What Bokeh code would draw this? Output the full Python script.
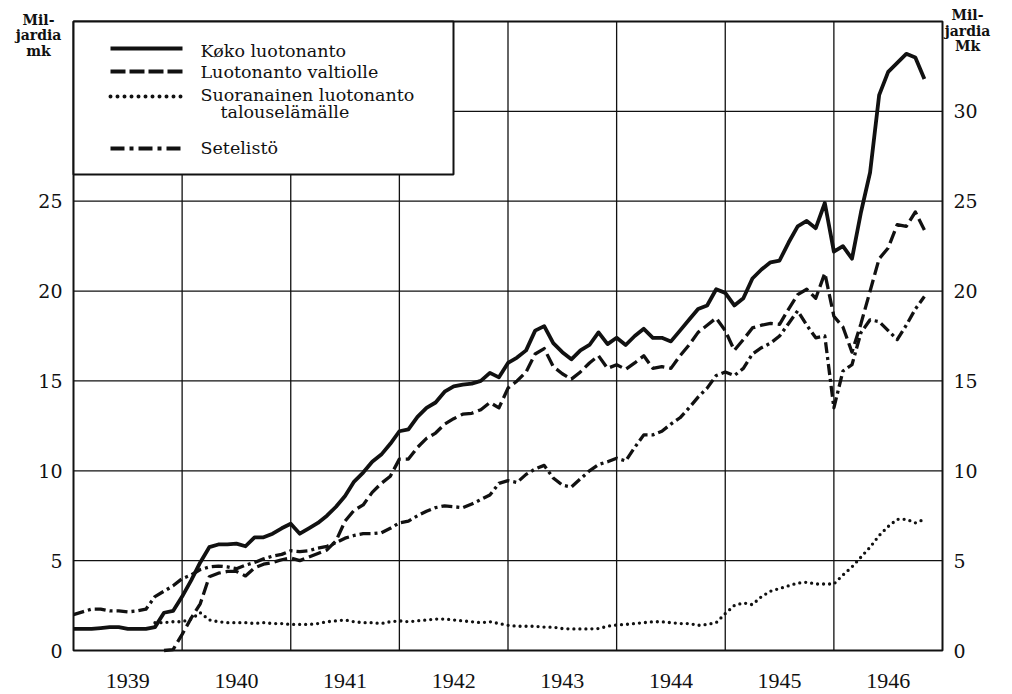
import numpy as np
from bokeh.plotting import figure
from bokeh.models import Label, BoxAnnotation, Arrow, Range1d, ColumnDataSource
from bokeh.core.properties import value
from bokeh.embed import file_html
from bokeh.resources import INLINE

# ---------------- data (monthly, Jan 1939 .. Nov 1946, milliards of mk) ----------------
year_labels = ["1939", "1940", "1941", "1942", "1943", "1944", "1945", "1946"]
start_year = 1939
nan = float("nan")

koko = [1.2, 1.2, 1.2, 1.25, 1.3, 1.3, 1.2, 1.2, 1.2, 1.3,
        2.1, 2.2, 3.0, 3.9, 4.9, 5.75, 5.9, 5.9, 5.95, 5.8,
        6.3, 6.3, 6.5, 6.8, 7.05, 6.5, 6.8, 7.1, 7.5, 8.0,
        8.6, 9.4, 9.9, 10.5, 10.9, 11.5, 12.2, 12.3, 13.0, 13.5,
        13.8, 14.4, 14.7, 14.8, 14.85, 15.0, 15.45, 15.2, 16.0, 16.3,
        16.7, 17.8, 18.05, 17.1, 16.6, 16.2, 16.7, 17.0, 17.7, 17.05,
        17.4, 17.0, 17.5, 17.9, 17.4, 17.4, 17.2, 17.8, 18.4, 19.0,
        19.2, 20.1, 19.9, 19.2, 19.6, 20.7, 21.2, 21.6, 21.7, 22.7,
        23.6, 23.9, 23.5, 24.9, 22.2, 22.5, 21.8, 24.4, 26.6, 30.9,
        32.2, 32.7, 33.2, 33.0, 31.8]

valtio = [nan, nan, nan, nan, nan, nan, nan, nan, nan, nan,
          0.0, 0.05, 0.9, 1.8, 2.6, 4.1, 4.3, 4.4, 4.4, 4.15,
          4.6, 4.8, 4.9, 5.05, 5.15, 5.0, 5.2, 5.4, 5.6, 6.1,
          7.2, 7.8, 8.1, 8.8, 9.3, 9.7, 10.65, 10.65, 11.3, 11.8,
          12.1, 12.6, 12.9, 13.15, 13.2, 13.4, 13.8, 13.5, 14.6, 15.0,
          15.5, 16.5, 16.8, 15.8, 15.4, 15.1, 15.5, 16.0, 16.4, 15.7,
          15.9, 15.65, 16.0, 16.4, 15.7, 15.8, 15.7, 16.4, 17.0, 17.7,
          18.1, 18.5, 17.8, 16.7, 17.3, 17.95, 18.1, 18.2, 18.15, 19.0,
          19.8, 20.1, 19.6, 21.0, 18.6, 18.0, 16.6, 18.2, 20.0, 21.8,
          22.4, 23.7, 23.6, 24.4, 23.4]

suora = [nan, nan, nan, nan, nan, nan, nan, nan, nan, 1.55,
         1.55, 1.6, 1.6, 1.75, 2.1, 1.7, 1.6, 1.55, 1.55, 1.55,
         1.5, 1.55, 1.5, 1.5, 1.45, 1.45, 1.45, 1.5, 1.6, 1.65,
         1.7, 1.6, 1.55, 1.55, 1.5, 1.6, 1.65, 1.6, 1.65, 1.7,
         1.75, 1.75, 1.7, 1.65, 1.6, 1.55, 1.6, 1.5, 1.4, 1.35,
         1.35, 1.35, 1.3, 1.3, 1.22, 1.2, 1.2, 1.2, 1.22, 1.35,
         1.42, 1.45, 1.5, 1.55, 1.6, 1.6, 1.55, 1.5, 1.5, 1.4,
         1.45, 1.55, 2.05, 2.5, 2.65, 2.55, 3.0, 3.3, 3.45, 3.6,
         3.75, 3.8, 3.7, 3.7, 3.7, 4.2, 4.65, 5.2, 5.75, 6.4,
         6.9, 7.3, 7.3, 7.1, 7.3]

seteli = [2.0, 2.15, 2.3, 2.3, 2.2, 2.2, 2.15, 2.2, 2.3, 3.0,
          3.3, 3.6, 4.0, 4.2, 4.5, 4.65, 4.7, 4.65, 4.55, 4.75,
          4.9, 5.1, 5.25, 5.35, 5.55, 5.5, 5.55, 5.7, 5.8, 6.0,
          6.25, 6.4, 6.5, 6.5, 6.55, 6.8, 7.1, 7.2, 7.5, 7.75,
          7.95, 8.05, 8.0, 7.95, 8.15, 8.4, 8.65, 9.3, 9.45, 9.35,
          9.8, 10.1, 10.3, 9.6, 9.2, 9.1, 9.55, 10.0, 10.35, 10.5,
          10.7, 10.55, 11.3, 12.0, 12.0, 12.2, 12.6, 12.95, 13.5, 14.1,
          14.6, 15.3, 15.5, 15.3, 15.7, 16.5, 16.85, 17.1, 17.5, 18.2,
          18.9, 18.1, 17.4, 17.5, 13.5, 15.55, 15.9, 17.7, 18.4, 18.3,
          17.8, 17.3, 18.1, 19.0, 19.7]

left_ticks = [0, 5, 10, 15, 20, 25]
right_ticks = [0, 5, 10, 15, 20, 25, 30]
grid_years = [1940, 1941, 1942, 1943, 1944, 1945, 1946]
grid_values = [5, 10, 15, 20, 25, 30]

legend_names = ["Køko luotonanto", "Luotonanto valtiolle",
                "Suoranainen luotonanto", "talouselämälle", "Setelistö"]
unit_left = ["Mil-", "jardia", "mk"]
unit_right = ["Mil-", "jardia", "Mk"]

# ---------------- layout helpers (canvas pixel -> data) ----------------
W, H = 1012, 694
FL, FR, FT, FB = 73.0, 942.0, 21.0, 650.0      # edges of the drawn chart frame
X0, X1, Y0, Y1 = 1939.0, 1947.0, 0.0, 35.0     # data extent of the chart frame


def X(px):
    return X0 + (px - FL) * (X1 - X0) / (FR - FL)


def Y(py):
    return Y0 + (FB - py) * (Y1 - Y0) / (FB - FT)


t = start_year + np.arange(len(koko)) / 12.0

SERIF = "DejaVu Serif"
INK = "#111111"

# the Bokeh frame covers the whole canvas; the chart box is drawn inside it
p = figure(width=W, height=H, x_range=Range1d(X(0), X(W)), y_range=Range1d(Y(H), Y(0)),
           output_backend="svg", toolbar_location=None,
           x_axis_type=None, y_axis_type=None,
           min_border=0, min_border_left=0, min_border_right=0,
           min_border_top=0, min_border_bottom=0)
p.background_fill_color = "white"
p.border_fill_color = "white"
p.outline_line_color = None

# grid lines
p.segment(x0=grid_years, y0=[Y0] * len(grid_years), x1=grid_years, y1=[Y1] * len(grid_years),
          line_color=INK, line_width=1.3)
p.segment(x0=[X0] * len(grid_values), y0=grid_values, x1=[X1] * len(grid_values), y1=grid_values,
          line_color=INK, line_width=1.3)

# series
p.line(t, koko, line_color=INK, line_width=3.8, line_join="round")
p.line(t, valtio, line_color=INK, line_width=3.3, line_dash="13 5", line_join="round")
p.line(t, suora, line_color=INK, line_width=3.3, line_dash="0 6", line_cap="round", line_join="round")
p.line(t, seteli, line_color=INK, line_width=3.3, line_dash="11 4 3 4", line_join="round")

# chart frame
p.add_layout(BoxAnnotation(left=X0, right=X1, bottom=Y0, top=Y1, fill_alpha=0.0,
                           line_color=INK, line_width=2, line_alpha=1.0))

# tick labels
src_l = ColumnDataSource(dict(x=[X(62)] * len(left_ticks), y=left_ticks,
                              s=[str(v) for v in left_ticks]))
p.text(x="x", y="y", text="s", source=src_l, text_align="right", text_baseline="middle",
       text_font=value(SERIF), text_font_size="19px", text_color=INK)
src_r = ColumnDataSource(dict(x=[X(953)] * len(right_ticks), y=right_ticks,
                              s=[str(v) for v in right_ticks]))
p.text(x="x", y="y", text="s", source=src_r, text_align="left", text_baseline="middle",
       text_font=value(SERIF), text_font_size="19px", text_color=INK)
src_y = ColumnDataSource(dict(x=[start_year + k + 0.5 for k in range(len(year_labels))],
                              y=[Y(680)] * len(year_labels), s=year_labels))
p.text(x="x", y="y", text="s", source=src_y, text_align="center", text_baseline="middle",
       text_font=value("Liberation Serif"), text_font_size="22px", text_color=INK)

# unit captions
for txt, ry in zip(unit_left, [19, 34, 50]):
    p.add_layout(Label(x=X(38), y=Y(ry), text=txt, text_font=SERIF, text_font_size="14px",
                       text_font_style="bold", text_align="center", text_baseline="middle",
                       text_color=INK))
for txt, ry in zip(unit_right, [14, 30, 45]):
    p.add_layout(Label(x=X(967), y=Y(ry), text=txt, text_font=SERIF, text_font_size="14px",
                       text_font_style="bold", text_align="center", text_baseline="middle",
                       text_color=INK))

# legend box
p.add_layout(BoxAnnotation(left=X(FL), right=X(453), bottom=Y(174), top=Y(FT),
                           fill_color="white", fill_alpha=1.0,
                           line_color=INK, line_width=2, line_alpha=1.0))

samples = [(48, None, "butt"), (71, "15 4", "butt"), (96, "0 7", "round"), (148, "14 5 4 5", "butt")]
for (sy, dash, cap) in samples:
    kw = dict(x_start=X(110), y_start=Y(sy), x_end=X(182), y_end=Y(sy), start=None, end=None,
              line_color=INK, line_width=4, line_cap=cap)
    if dash is not None:
        kw["line_dash"] = dash
    p.add_layout(Arrow(**kw))

legend_pos = [(200, 50), (200, 71), (200, 94), (220, 111), (200, 147)]
for name, (lx, ly) in zip(legend_names, legend_pos):
    p.add_layout(Label(x=X(lx), y=Y(ly), text=name, text_font=SERIF,
                       text_font_size="17.5px", text_baseline="middle", text_align="left",
                       text_color=INK))

open("out.html", "w").write(file_html(p, INLINE))
